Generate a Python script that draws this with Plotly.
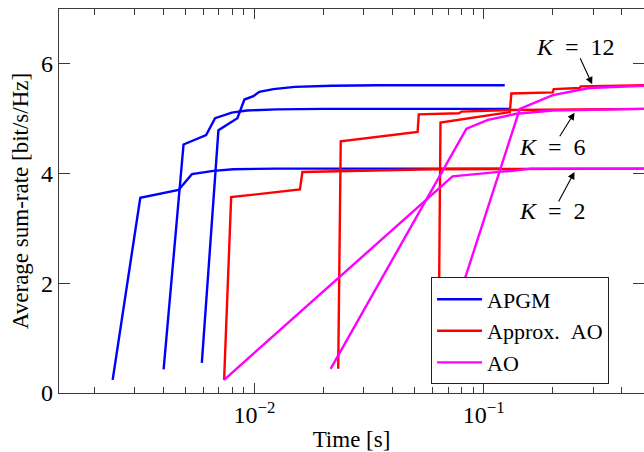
import numpy as np
import plotly.graph_objects as go

# Run time [s] and average sum-rate [bit/s/Hz] per method and user count K
apgm_k2_t = [0.00241, 0.00318, 0.00467, 0.00534, 0.00663, 0.0081, 0.0125, 0.02, 0.12]
apgm_k2_r = [0.24, 3.56, 3.70, 3.99, 4.05, 4.08, 4.09, 4.09, 4.09]
apgm_k6_t = [0.00402, 0.00491, 0.00616, 0.00674, 0.00797, 0.00927, 0.0125, 0.02, 0.13]
apgm_k6_r = [0.43, 4.53, 4.70, 5.01, 5.11, 5.15, 5.17, 5.18, 5.18]
apgm_k12_t = [0.0059, 0.00697, 0.00843, 0.00905, 0.0099, 0.0105, 0.0121, 0.015, 0.0217, 0.035, 0.1235]
apgm_k12_r = [0.55, 4.79, 5.01, 5.35, 5.41, 5.49, 5.54, 5.58, 5.60, 5.61, 5.61]

approx_k2_t = [0.00738, 0.00792, 0.0158, 0.0162, 0.06, 0.5]
approx_k2_r = [0.24, 3.57, 3.71, 4.03, 4.08, 4.09]
approx_k6_t = [0.0232, 0.0238, 0.0515, 0.0521, 0.078, 0.080, 0.13, 0.5]
approx_k6_r = [0.44, 4.59, 4.76, 5.08, 5.10, 5.13, 5.16, 5.18]
approx_k12_t = [0.0635, 0.0648, 0.130, 0.132, 0.200, 0.202, 0.262, 0.265, 0.5]
approx_k12_r = [0.55, 4.93, 5.12, 5.46, 5.48, 5.54, 5.56, 5.59, 5.61]

ao_k2_t = [0.00738, 0.0731, 0.1166, 0.134, 0.16, 0.5]
ao_k2_r = [0.24, 3.95, 4.03, 4.05, 4.09, 4.09]
ao_k6_t = [0.0215, 0.0841, 0.1044, 0.139, 0.2, 0.5]
ao_k6_r = [0.44, 4.82, 4.98, 5.09, 5.15, 5.18]
ao_k12_t = [0.063, 0.1437, 0.2, 0.289, 0.5]
ao_k12_r = [0.55, 5.18, 5.43, 5.56, 5.60]

methods = [
    ("APGM", "#0000ff", [(apgm_k2_t, apgm_k2_r), (apgm_k6_t, apgm_k6_r), (apgm_k12_t, apgm_k12_r)]),
    ("Approx.\u2002AO", "#ff0000", [(approx_k2_t, approx_k2_r), (approx_k6_t, approx_k6_r), (approx_k12_t, approx_k12_r)]),
    ("AO", "#ff00ff", [(ao_k2_t, ao_k2_r), (ao_k6_t, ao_k6_r), (ao_k12_t, ao_k12_r)]),
]

x_major = [0.01, 0.1]
x_major_text = ["10<sup>−2</sup>", "10<sup>−1</sup>"]
x_minor = [m * 10.0 ** e for e in (-3, -2, -1) for m in range(2, 10)]
x_minor = [v for v in x_minor if 0.0014 < v < 0.5]
y_ticks = [0, 2, 4, 6]

FONT = "Liberation Serif"
AXC = "#3a3a3a"

fig = go.Figure()
for name, color, curves in methods:
    for i, (t, r) in enumerate(curves):
        fig.add_trace(go.Scatter(
            x=t, y=r, mode="lines", name=name, legendgroup=name,
            showlegend=(i == 0), line=dict(color=color, width=2.4),
        ))

# K labels (log10 time, rate) and arrows (tip time, tip rate, tail offset in px)
k_labels = [
    ("<i>K</i>\u2002=\u200212", -0.600, 6.30, 0.2972, 5.63, -12.7, -27.3),
    ("<i>K</i>\u2002=\u20026", -0.698, 4.48, 0.2489, 5.11, -15.7, 25.0),
    ("<i>K</i>\u2002=\u20022", -0.698, 3.31, 0.2489, 4.03, -16.7, 31.0),
]
for text, lx, ly, tx, ty, ax, ay in k_labels:
    fig.add_annotation(x=lx, y=ly, text=text, showarrow=False,
                       font=dict(family=FONT, size=24, color="black"))
    fig.add_annotation(x=np.log10(tx), y=ty, text="", showarrow=True,
                       ax=ax, ay=ay, arrowhead=2, arrowsize=1.3,
                       arrowwidth=1.1, arrowcolor="black", standoff=0, startstandoff=0)

fig.update_xaxes(
    type="log", range=[-2.852, -0.301],
    tickvals=x_major, ticktext=x_major_text,
    ticks="inside", ticklen=10, tickwidth=1, tickcolor=AXC,
    minor=dict(tickvals=x_minor, ticks="inside", ticklen=6, tickwidth=1, tickcolor=AXC, showgrid=False),
    showline=True, linecolor=AXC, linewidth=1.2, mirror="ticks",
    showgrid=False, zeroline=False,
    tickfont=dict(family=FONT, size=24),
    title=dict(text="Time [s]", font=dict(family=FONT, size=23), standoff=6),
)
fig.update_yaxes(
    range=[0, 7], tickvals=y_ticks,
    ticks="inside", ticklen=11, tickwidth=1, tickcolor=AXC,
    showline=True, linecolor=AXC, linewidth=1.2, mirror="ticks",
    showgrid=False, zeroline=False,
    tickfont=dict(family=FONT, size=24),
    title=dict(text="Average sum-rate [bit/s/Hz]", font=dict(family=FONT, size=23), standoff=6),
)
fig.update_layout(
    width=644, height=452,
    margin=dict(l=59, r=0, t=9, b=59),
    plot_bgcolor="white", paper_bgcolor="white",
    font=dict(family=FONT, color="black"),
    legend=dict(x=0.636, y=0.301, xanchor="left", yanchor="top",
                bgcolor="white", bordercolor="#222", borderwidth=1,
                font=dict(family=FONT, size=22), itemwidth=45, tracegroupgap=0),
)
fig.write_html("out.html")
